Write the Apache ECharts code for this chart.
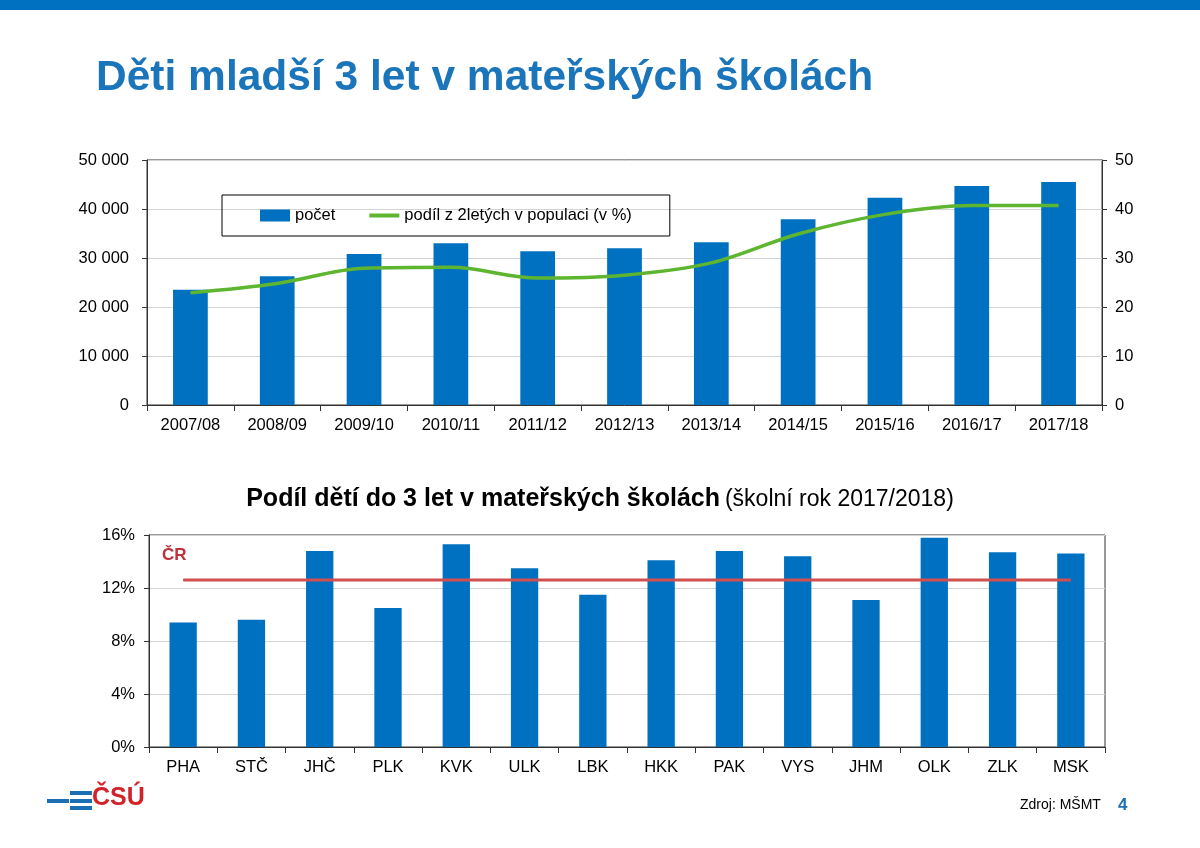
<!DOCTYPE html>
<html>
<head>
<meta charset="utf-8">
<title>Děti mladší 3 let v mateřských školách</title>
<script src="https://cdn.jsdelivr.net/npm/echarts@6/dist/echarts.min.js"></script>
<style>
  html, body { margin: 0; padding: 0; background: #fff; }
  #chart { width: 1200px; height: 848px; }
</style>
</head>
<body>
<div id="chart"></div>
<script>
// horní graf - počty dětí a podíl z 2letých
const roky = ['2007/08', '2008/09', '2009/10', '2010/11', '2011/12', '2012/13', '2013/14', '2014/15', '2015/16', '2016/17', '2017/18'];
const pocet = [23500, 26300, 30800, 33000, 31400, 32000, 33200, 37900, 42300, 44700, 45500];
const podil2lete = [22.9, 24.8, 27.9, 28.1, 25.9, 26.5, 29.0, 34.9, 38.9, 40.7, 40.7];

// dolní graf - podíl podle krajů
const kraje = ['PHA', 'STČ', 'JHČ', 'PLK', 'KVK', 'ULK', 'LBK', 'HKK', 'PAK', 'VYS', 'JHM', 'OLK', 'ZLK', 'MSK'];
const podilKraje = [9.4, 9.6, 14.8, 10.5, 15.3, 13.5, 11.5, 14.1, 14.8, 14.4, 11.1, 15.8, 14.7, 14.6];
const podilCR = 12.6;

const FONT = '"Liberation Sans", Arial, sans-serif';
const BLUE = '#0070C0';
const GREEN = '#5DB530';
const RED = '#D24F4F';

const chart = echarts.init(document.getElementById('chart'));

function tisice(v) {
    return String(v).replace(/\B(?=(\d{3})+(?!\d))/g, ' ');
}

const axisLine = { show: true, lineStyle: { color: '#333', width: 1 } };
const axisTick = { show: true, length: 5, lineStyle: { color: '#333' } };
const splitLine = { show: true, lineStyle: { color: '#d4d4d4', width: 1 } };
const label = { color: '#000', fontSize: 16.5, fontFamily: FONT };

const option = {
    animation: false,
    textStyle: { fontFamily: FONT },
    title: [
        {
            text: 'Děti mladší 3 let v mateřských školách',
            left: 96, top: 57, padding: 0,
            textStyle: { color: '#1B75BB', fontSize: 42.5, fontWeight: 'bold', fontFamily: FONT }
        },
        {
            text: '{b|Podíl dětí do 3 let v mateřských školách} {n|(školní rok 2017/2018)}',
            left: 'center', top: 487, padding: 0,
            textStyle: {
                rich: {
                    b: { fontSize: 25, fontWeight: 'bold', color: '#000', fontFamily: FONT },
                    n: { fontSize: 23, fontWeight: 'normal', color: '#000', fontFamily: FONT }
                }
            }
        }
    ],
    legend: {
        data: [
            { name: 'počet', icon: 'rect' },
            { name: 'podíl z 2letých v populaci (v %)', icon: 'path://M0,0 L30,0 L30,4 L0,4 Z' }
        ],
        left: 222, top: 195,
        padding: [12, 38, 12, 38],
        borderColor: '#000', borderWidth: 1, borderRadius: 0,
        itemWidth: 30, itemHeight: 12, itemGap: 34,
        symbolKeepAspect: true,
        textStyle: { fontSize: 16.5, color: '#000', fontFamily: FONT }
    },
    grid: [
        { left: 147, right: 98, top: 160, bottom: 443, show: true, borderColor: '#333', borderWidth: 1 },
        { left: 149, right: 95, top: 535, bottom: 101, show: true, borderColor: '#333', borderWidth: 1 }
    ],
    xAxis: [
        {
            type: 'category', gridIndex: 0, data: roky,
            axisLine: axisLine,
            axisTick: { show: true, length: 6, lineStyle: { color: '#333' } },
            axisLabel: Object.assign({ margin: 12 }, label)
        },
        {
            type: 'category', gridIndex: 1, data: kraje,
            axisLine: axisLine,
            axisTick: { show: true, length: 6, lineStyle: { color: '#333' } },
            axisLabel: Object.assign({ margin: 12 }, label)
        }
    ],
    yAxis: [
        {
            type: 'value', gridIndex: 0, min: 0, max: 50000, interval: 10000,
            axisLine: axisLine, axisTick: axisTick, splitLine: splitLine,
            axisLabel: Object.assign({ margin: 18, formatter: tisice }, label)
        },
        {
            type: 'value', gridIndex: 0, position: 'right', min: 0, max: 50, interval: 10,
            axisLine: axisLine, axisTick: axisTick, splitLine: { show: false },
            axisLabel: Object.assign({ margin: 13 }, label)
        },
        {
            type: 'value', gridIndex: 1, min: 0, max: 16, interval: 4,
            axisLine: axisLine, axisTick: axisTick, splitLine: splitLine,
            axisLabel: Object.assign({ margin: 14, formatter: '{value}%' }, label)
        }
    ],
    series: [
        {
            name: 'počet', type: 'bar', xAxisIndex: 0, yAxisIndex: 0,
            data: pocet, barWidth: '40%',
            itemStyle: { color: BLUE }
        },
        {
            name: 'podíl z 2letých v populaci (v %)', type: 'line', xAxisIndex: 0, yAxisIndex: 1,
            data: podil2lete, smooth: 0.35, symbol: 'none',
            lineStyle: { color: GREEN, width: 3.5 },
            itemStyle: { color: GREEN }
        },
        {
            name: 'kraje', type: 'bar', xAxisIndex: 1, yAxisIndex: 2,
            data: podilKraje, barWidth: '40%',
            itemStyle: { color: BLUE }
        },
        {
            name: 'ČR', type: 'line', xAxisIndex: 1, yAxisIndex: 2,
            data: kraje.map(function () { return podilCR; }),
            symbol: 'none',
            lineStyle: { color: RED, width: 3 },
            z: 5
        }
    ],
    graphic: [
        // modrý pruh nahoře
        { type: 'rect', left: 0, top: 0, shape: { width: 1200, height: 10 }, style: { fill: '#0070C0' } },
        // popisek ČR
        { type: 'text', left: 162, top: 547, style: { text: 'ČR', fill: '#C0303A', font: 'bold 17px ' + FONT } },
        // logo ČSÚ
        { type: 'rect', left: 47, top: 799, shape: { width: 22, height: 4 }, style: { fill: '#1B6FB5' } },
        { type: 'rect', left: 70, top: 791, shape: { width: 22, height: 4 }, style: { fill: '#1B6FB5' } },
        { type: 'rect', left: 70, top: 799, shape: { width: 22, height: 4 }, style: { fill: '#1B6FB5' } },
        { type: 'rect', left: 70, top: 806, shape: { width: 22, height: 4 }, style: { fill: '#1B6FB5' } },
        { type: 'text', left: 92, top: 786, style: { text: 'ČSÚ', fill: '#D2232A', font: 'bold 25px ' + FONT } },
        // zdroj a číslo strany
        { type: 'text', left: 1020, top: 798, style: { text: 'Zdroj: MŠMT', fill: '#000', font: '14px ' + FONT } },
        { type: 'text', left: 1118, top: 797, style: { text: '4', fill: '#1F6FB0', font: 'bold 17px ' + FONT } }
    ]
};

chart.setOption(option);
</script>
</body>
</html>
